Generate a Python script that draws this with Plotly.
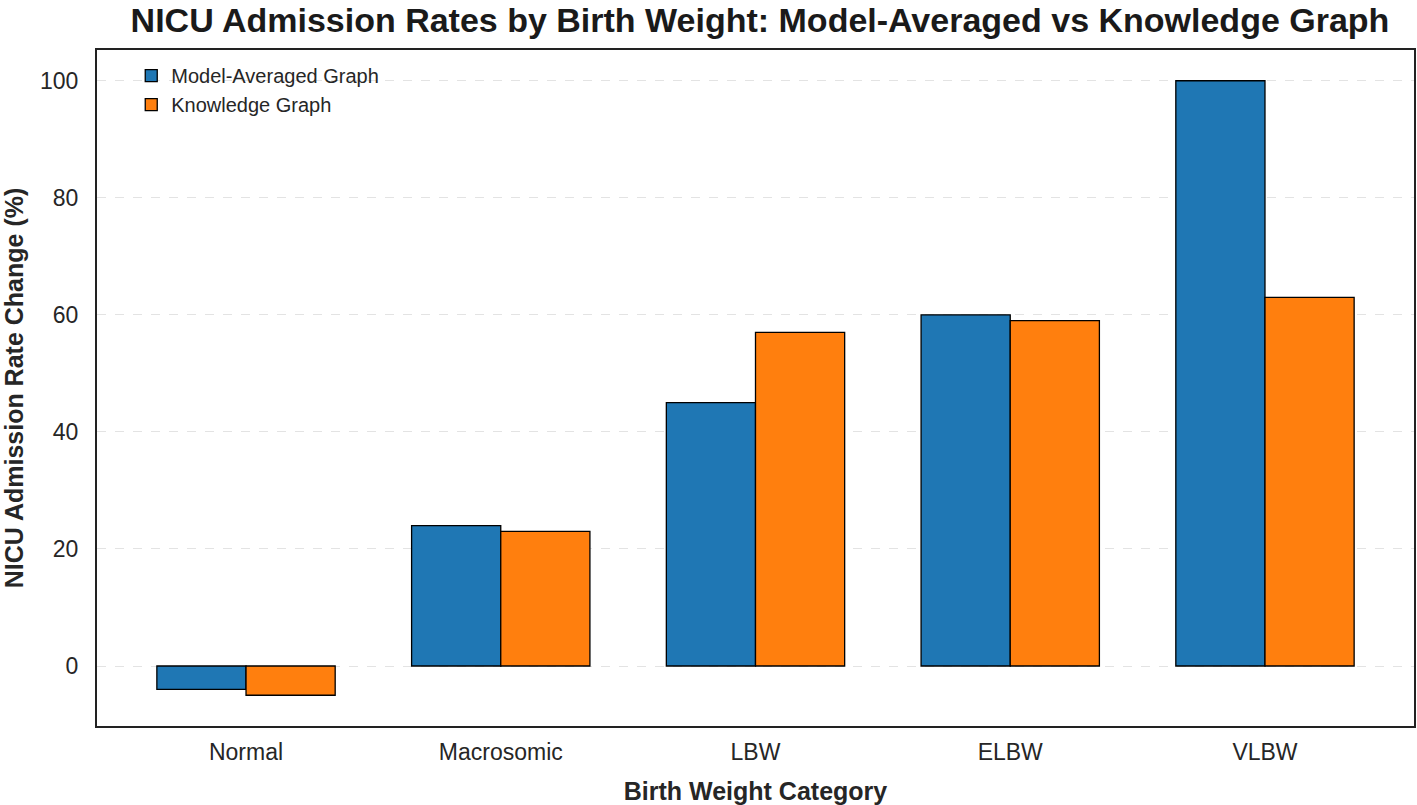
import plotly.graph_objects as go

# Birth weight categories and NICU admission rate change (%)
categories = ["Normal", "Macrosomic", "LBW", "ELBW", "VLBW"]
model_averaged = [-4, 24, 45, 60, 100]
knowledge_graph = [-5, 23, 57, 59, 63]
y_ticks = [0, 20, 40, 60, 80, 100]

FONT = "Liberation Sans, Arial, sans-serif"

fig = go.Figure()
fig.add_trace(go.Bar(
    x=categories, y=model_averaged, name="Model-Averaged Graph",
    marker=dict(color="#1f77b4", line=dict(color="black", width=1.3)),
))
fig.add_trace(go.Bar(
    x=categories, y=knowledge_graph, name="Knowledge Graph",
    marker=dict(color="#ff7f0e", line=dict(color="black", width=1.3)),
))

fig.update_layout(
    width=1417, height=805,
    margin=dict(l=97, r=1, t=50, b=79),
    barmode="group", bargap=0.3, bargroupgap=0,
    plot_bgcolor="white", paper_bgcolor="white",
    font=dict(family=FONT, color="#262626"),
    title=dict(
        text="<b>NICU Admission Rates by Birth Weight: Model-Averaged vs Knowledge Graph</b>",
        x=760 / 1417, xanchor="center", yref="container", y=1 - 20 / 805, yanchor="middle",
        font=dict(size=34, color="#1a1a1a"),
    ),
    legend=dict(
        x=0.026, y=0.991, xanchor="left", yanchor="top",
        bgcolor="rgba(0,0,0,0)", font=dict(size=20),
        tracegroupgap=2,
    ),
    xaxis=dict(
        range=[-0.585, 4.585],
        showline=True, linecolor="#222", linewidth=2, mirror=True,
        showgrid=False, ticks="", tickfont=dict(size=23), ticklabelstandoff=4,
        title=dict(text="<b>Birth Weight Category</b>", font=dict(size=25), standoff=20),
    ),
    yaxis=dict(
        range=[-10.25, 105.25], tickvals=y_ticks,
        showline=True, linecolor="#222", linewidth=2, mirror=True,
        showgrid=True, gridcolor="#e3e3e3", griddash="dash", gridwidth=1,
        zeroline=False, ticks="", tickfont=dict(size=23), ticklabelstandoff=12,
        title=dict(text="<b>NICU Admission Rate Change (%)</b>", font=dict(size=25), standoff=15),
    ),
)

# the page body has a default 8px margin; drop it so the figure sits at the window corner
fig.write_html(
    "out.html",
    config={"displayModeBar": False},
    post_script="document.body.style.margin='0';",
)
